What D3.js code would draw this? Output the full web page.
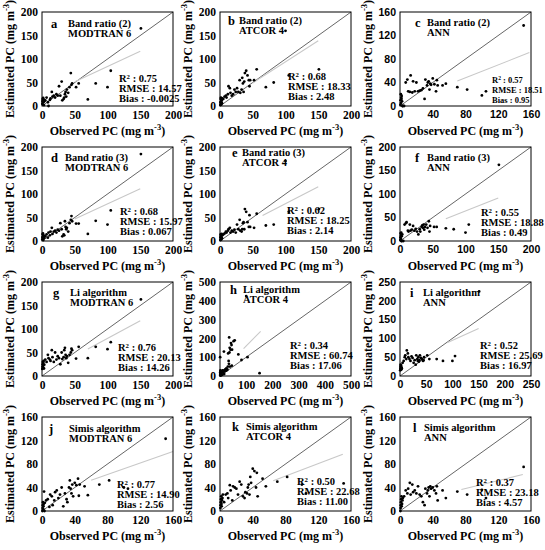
<!DOCTYPE html>
<html><head><meta charset="utf-8">
<script src="https://cdn.jsdelivr.net/npm/d3@7"></script>
<style>body{margin:0;background:#fff}svg{display:block}</style>
</head><body>
<svg id="c" width="545" height="550"></svg>
<script>
// ---- DATA ----
const observed = [0.5,0.8,1.0,1.2,1.5,1.8,2.0,2.5,3.0,3.5,5,7,9,10,12,13,15,16,18,20,22,24,26,28,30,31,33,34,35,36,37,38,40,42,44,45,46,52,56,70,82,100,105,151];
const estA = [5,10,15,3,12,17,8,14,2,10,12,18,8,0,13,16,30,20,22,18,25,22,42,22,52,12,15,18,25,30,20,35,28,40,70,45,48,40,48,14,48,40,75,165];
const estB = [2,8,15,5,18,10,3,12,6,16,15,20,22,18,25,42,38,28,22,25,35,30,38,30,55,28,35,60,48,30,52,70,75,65,55,42,55,55,78,40,50,160,65,78];
const estC = [2,10,20,5,14,12,17,8,0,0,0,40,45,25,24,52,23,42,25,40,25,26,27,30,12,45,35,40,42,28,38,36,47,37,25,44,35,35,38,32,28,18,25,137];
const estD = [3,8,14,5,16,10,2,12,6,9,10,14,7,18,12,20,28,15,20,22,18,24,22,38,25,10,14,12,42,30,25,28,20,38,45,53,42,37,37,15,43,35,65,185];
const estE = [2,8,14,5,12,10,3,15,6,12,14,16,20,18,22,25,28,18,22,20,24,18,35,25,45,22,20,25,38,40,25,68,62,40,30,55,30,28,58,33,35,170,62,68];
const estF = [2,8,16,5,12,18,0,10,0,14,0,35,38,40,22,20,35,22,24,32,22,26,20,14,25,20,30,33,28,35,24,30,35,28,42,20,32,30,30,27,25,18,35,162];
const estG = [15,20,25,30,18,22,28,32,16,24,35,30,45,38,35,32,55,40,30,50,35,42,38,25,50,36,40,55,60,45,38,42,28,45,50,58,55,37,62,38,62,57,72,163];
const estH = [100,5,10,20,3,30,8,15,2,25,12,18,6,30,20,28,130,10,25,35,28,40,30,35,50,120,80,65,205,125,150,50,140,175,165,55,140,185,190,115,85,425,100,15];
const estI = [15,20,25,30,18,22,28,17,23,20,35,40,50,55,45,68,60,50,45,40,52,48,35,42,30,55,45,40,50,38,42,55,48,45,40,42,50,55,45,45,40,40,53,225];
const estJ = [0,5,10,15,3,8,12,33,0,14,18,20,7,28,25,10,18,32,35,22,28,40,8,30,20,15,40,52,38,30,45,25,48,44,55,26,45,42,27,45,52,40,38,123];
const estK = [5,10,15,20,25,12,8,18,22,28,15,28,30,22,44,35,18,42,40,38,28,50,45,25,22,32,30,40,45,28,58,48,72,68,40,65,25,55,42,50,58,45,30,47];
const estL = [0,5,10,15,20,25,8,12,18,22,25,35,30,38,48,28,45,32,35,30,42,28,25,15,10,38,30,35,40,25,42,38,40,35,30,42,18,35,22,33,28,36,22,75];
const estimated = [estA,estB,estC,estD,estE,estF,estG,estH,estI,estJ,estK,estL];

const letters = ['a','b','c','d','e','f','g','h','i','j','k','l'];
const methods = ['Band ratio (2)','Band ratio (2)','Band ratio (2)','Band ratio (3)','Band ratio (3)','Band ratio (3)','Li algorithm','Li algorithm','Li algorithm','Simis algorithm','Simis algorithm','Simis algorithm'];
const sensors = ['MODTRAN 6','ATCOR 4','ANN','MODTRAN 6','ATCOR 4','ANN','MODTRAN 6','ATCOR 4','ANN','MODTRAN 6','ATCOR 4','ANN'];
const r2 = ['0.75','0.68','0.57','0.68','0.62','0.55','0.76','0.34','0.52','0.77','0.50','0.37'];
const rmse = ['14.57','18.33','18.51','15.97','18.25','18.88','20.13','60.74','25.69','14.90','22.68','23.18'];
const bias = ['-0.0025','2.48','0.95','0.067','2.14','0.49','14.26','17.06','16.97','2.56','11.00','4.57'];
const axisMax = [200,200,160,200,200,200,200,500,250,160,160,160];
const tickStep = [50,50,40,50,50,50,50,100,50,40,40,40];
const fitSlope = [0.65,0.9,0.55,0.64,0.72,0.55,0.75,1.4,0.63,0.49,0.53,0.34];
const fitIntercept = [19,4,4,15,7.5,9,5,20,32,23,17,11];
const fitX0 = [50,50,70,50,65,70,70,90,90,60,65,75];
const fitX1 = [150,150,158,150,150,150,150,155,150,160,150,150];

// ---- LAYOUT ----
const colLeft = [42,220,400];
const rowTop = [12,147,282,417];
const PW = 131, PH = 94;
const letterDx = [9,8,15,9,12,15,11,10,10,7,12,13];
const titleDx = [26,19,27,23,22,27,28,23,23,27,26,24];
const titleY = [15,12,14,14,9,14,14,11,14,15,13,14];
const statDx = [77,68,92,78,67,81,76,70,80,75,77,76];
const statY = [70,68,71,68,67,69,69,67,67,71,68,69];
const statSize = [10.5,10.5,8.5,10.5,10.5,10.5,10.5,10.5,10.5,10.5,10.5,10.5];
const sansTicks = [false,false,true,false,false,true,false,false,true,false,false,false];

const SERIF = "'Liberation Serif','Times New Roman',serif";
const SANS = "'Liberation Sans',Arial,sans-serif";
const svg = d3.select('#c');

for (let p = 0; p < 12; p++) {
  const L = colLeft[p % 3], T = rowTop[Math.floor(p / 3)];
  const max = axisMax[p];
  const x = d3.scaleLinear().domain([0, max]).range([L, L + PW]);
  const y = d3.scaleLinear().domain([0, max]).range([T + PH, T]);
  const ticks = d3.range(0, max + 0.001, tickStep[p]);
  const g = svg.append('g');
  const tf = sansTicks[p] ? SANS : SERIF;
  const tsz = sansTicks[p] ? 10.5 : 11.5;

  const ya = g.append('g').attr('transform', `translate(${L},0)`)
    .call(d3.axisLeft(y).tickValues(ticks).tickSize(0).tickPadding(4).tickFormat(d3.format('d')));
  const xa = g.append('g').attr('transform', `translate(0,${T + PH})`)
    .call(d3.axisBottom(x).tickValues(ticks).tickSize(0).tickPadding(5).tickFormat(d3.format('d')));
  [ya, xa].forEach(a => {
    a.select('.domain').remove();
    a.selectAll('text').attr('font-family', tf).attr('font-weight', 'bold').attr('font-size', tsz).attr('fill', '#000');
  });

  // 1:1 line
  g.append('line').attr('x1', x(0)).attr('y1', y(0)).attr('x2', x(max)).attr('y2', y(max))
    .attr('stroke', '#666').attr('stroke-width', 1);
  // regression line
  g.append('line')
    .attr('x1', x(fitX0[p])).attr('y1', y(fitSlope[p] * fitX0[p] + fitIntercept[p]))
    .attr('x2', x(fitX1[p])).attr('y2', y(fitSlope[p] * fitX1[p] + fitIntercept[p]))
    .attr('stroke', '#c8c8c8').attr('stroke-width', 1.1);
  // points
  g.selectAll('circle').data(observed.map((o, i) => [o, estimated[p][i]])).join('circle')
    .attr('cx', d => x(d[0])).attr('cy', d => y(d[1])).attr('r', 1.4).attr('fill', '#000');
  // frame
  g.append('rect').attr('x', L).attr('y', T).attr('width', PW).attr('height', PH)
    .attr('fill', 'none').attr('stroke', '#000').attr('stroke-width', 1);

  // panel letter + titles
  const txt = (xx, yy, s, size) => g.append('text').attr('x', xx).attr('y', yy)
    .attr('font-family', SERIF).attr('font-weight', 'bold').attr('font-size', size).attr('fill', '#000').text(s);
  txt(L + letterDx[p], T + titleY[p] + 1, letters[p], 12.5);
  txt(L + titleDx[p], T + titleY[p], methods[p], 10.5);
  txt(L + titleDx[p], T + titleY[p] + 9.5, sensors[p], 10.5);

  // stats
  const ss = statSize[p];
  const r = txt(L + statDx[p], T + statY[p], 'R', ss);
  r.append('tspan').attr('dy', -3.5).attr('font-size', ss * 0.65).text('2');
  r.append('tspan').attr('dy', 3.5).text(' : ' + r2[p]);
  txt(L + statDx[p], T + statY[p] + 10, 'RMSE : ' + rmse[p], ss);
  txt(L + statDx[p], T + statY[p] + 20, 'Bias : ' + bias[p], ss);

  // axis titles
  const xt = g.append('text').attr('x', L + PW / 2).attr('y', T + PH + 29).attr('text-anchor', 'middle')
    .attr('font-family', SERIF).attr('font-weight', 'bold').attr('font-size', 12).attr('fill', '#000');
  xt.append('tspan').text('Observed PC (mg m');
  xt.append('tspan').attr('dy', -5).attr('font-size', 8.5).text('-3');
  xt.append('tspan').attr('dy', 5).text(')');
  const cx = L - 28, cy = T + PH / 2;
  const yt = g.append('text').attr('transform', `translate(${cx},${cy}) rotate(-90)`).attr('text-anchor', 'middle')
    .attr('font-family', SERIF).attr('font-weight', 'bold').attr('font-size', 12).attr('fill', '#000');
  yt.append('tspan').text('Estimated PC (mg m');
  yt.append('tspan').attr('dy', -5).attr('font-size', 8.5).text('-3');
  yt.append('tspan').attr('dy', 5).text(')');
}
</script>
</body></html>
